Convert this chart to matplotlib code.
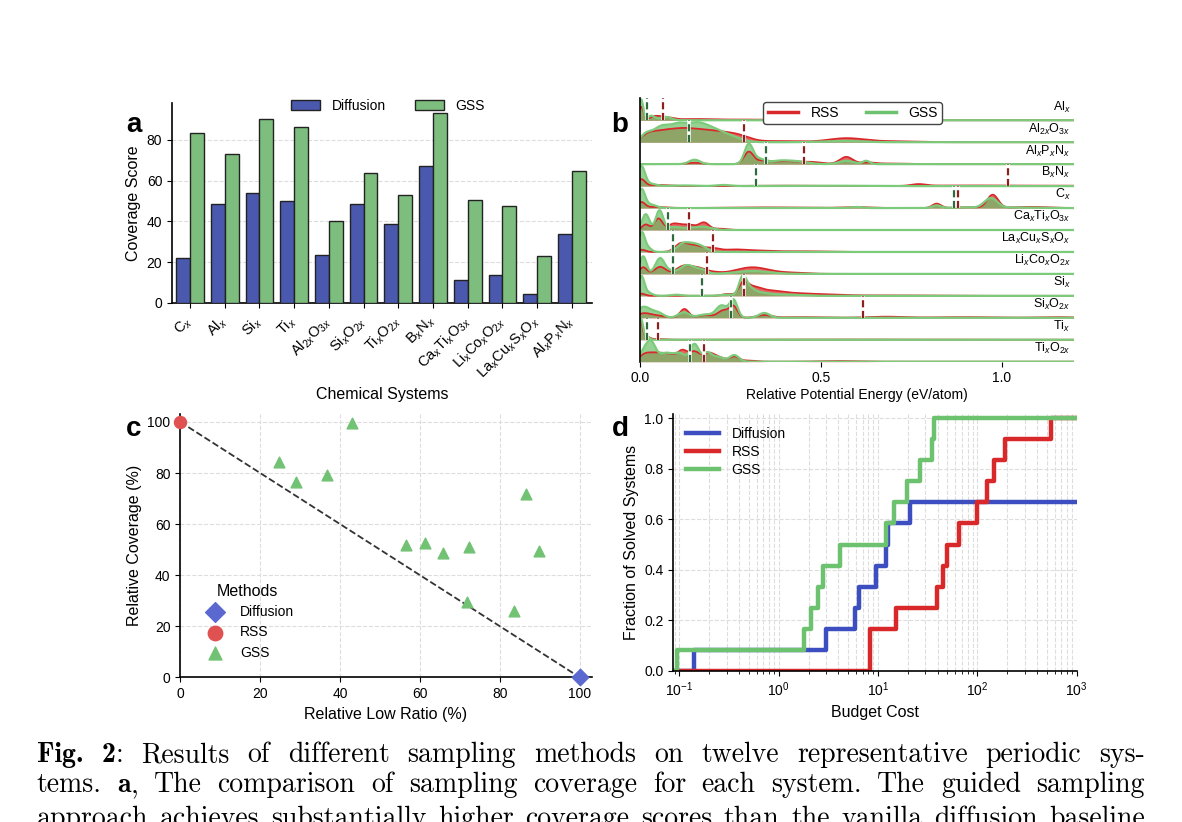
import re
import numpy as np
import matplotlib
matplotlib.use("Agg")
import matplotlib.pyplot as plt
from matplotlib.lines import Line2D

W, H = 1182, 822

plt.rcParams["font.family"] = ["Liberation Sans", "DejaVu Sans"]
plt.rcParams["mathtext.fontset"] = "custom"
plt.rcParams["mathtext.rm"] = "Liberation Sans"
plt.rcParams["mathtext.it"] = "Liberation Sans:italic"
plt.rcParams["axes.linewidth"] = 1.2
plt.rcParams["xtick.labelsize"] = 10
plt.rcParams["ytick.labelsize"] = 10

# ---------------- panel a: coverage score ----------------
systems_a = ["C$_x$", "Al$_x$", "Si$_x$", "Ti$_x$", "Al$_{2x}$O$_{3x}$", "Si$_x$O$_{2x}$",
             "Ti$_x$O$_{2x}$", "B$_x$N$_x$", "Ca$_x$Ti$_x$O$_{3x}$", "Li$_x$Co$_x$O$_{2x}$",
             "La$_x$Cu$_x$S$_x$O$_x$", "Al$_x$P$_x$N$_x$"]
diffusion_cov = [22.2, 48.3, 53.9, 50.1, 23.7, 48.6, 38.9, 67.0, 11.5, 13.6, 4.4, 34.0]
gss_cov = [83.4, 73.1, 90.2, 86.2, 40.1, 63.7, 52.9, 93.3, 50.4, 47.6, 22.8, 64.6]

# ---------------- panel b: energy distributions ----------------
systems_b = ["Al$_x$", "Al$_{2x}$O$_{3x}$", "Al$_x$P$_x$N$_x$", "B$_x$N$_x$", "C$_x$",
             "Ca$_x$Ti$_x$O$_{3x}$", "La$_x$Cu$_x$S$_x$O$_x$", "Li$_x$Co$_x$O$_{2x}$",
             "Si$_x$", "Si$_x$O$_{2x}$", "Ti$_x$", "Ti$_x$O$_{2x}$"]
# density peaks: (energy, relative height, width)
rss_peaks = [
    [(0.003, 0.6, 0.006), (0.04, 0.15, 0.015), (0.07, 0.12, 0.02), (0.15, 0.05, 0.05), (0.3, 0.03, 0.08)],
    [(0.02, 0.25, 0.02), (0.06, 0.42, 0.03), (0.11, 0.33, 0.03), (0.16, 0.45, 0.04), (0.23, 0.35, 0.04),
     (0.28, 0.15, 0.03), (0.38, 0.05, 0.06), (0.57, 0.18, 0.05), (0.7, 0.04, 0.06)],
    [(0.15, 0.06, 0.02), (0.3, 0.55, 0.013), (0.34, 0.15, 0.02), (0.4, 0.13, 0.03), (0.47, 0.1, 0.03),
     (0.57, 0.33, 0.018), (0.63, 0.07, 0.02), (0.7, 0.03, 0.04)],
    [(0.003, 0.3, 0.01), (0.05, 0.05, 0.03), (0.4, 0.02, 0.1), (0.77, 0.08, 0.02), (0.9, 0.03, 0.1),
     (1.15, 0.02, 0.08)],
    [(0.003, 0.25, 0.01), (0.04, 0.05, 0.03), (0.35, 0.03, 0.1), (0.6, 0.04, 0.04), (0.82, 0.2, 0.012),
     (0.9, 0.04, 0.03), (0.975, 0.6, 0.015), (1.08, 0.05, 0.05)],
    [(0.015, 0.25, 0.01), (0.05, 0.52, 0.011), (0.09, 0.22, 0.015), (0.13, 0.25, 0.025),
     (0.177, 0.3, 0.013), (0.22, 0.06, 0.02)],
    [(0.004, 0.1, 0.01), (0.11, 0.28, 0.015), (0.145, 0.32, 0.025), (0.2, 0.15, 0.02), (0.26, 0.1, 0.03),
     (0.33, 0.06, 0.04), (0.45, 0.03, 0.05)],
    [(0.008, 0.3, 0.01), (0.055, 0.32, 0.015), (0.12, 0.35, 0.02), (0.16, 0.25, 0.02), (0.2, 0.07, 0.02),
     (0.31, 0.3, 0.045), (0.42, 0.05, 0.04)],
    [(0.003, 0.1, 0.01), (0.24, 0.08, 0.015), (0.285, 0.5, 0.012), (0.31, 0.3, 0.02), (0.35, 0.2, 0.035),
     (0.42, 0.11, 0.05), (0.52, 0.05, 0.05), (0.7, 0.02, 0.1)],
    [(0.01, 0.2, 0.02), (0.05, 0.08, 0.02), (0.122, 0.4, 0.012), (0.18, 0.12, 0.02), (0.23, 0.33, 0.015),
     (0.258, 0.5, 0.011), (0.343, 0.12, 0.02), (0.45, 0.03, 0.06), (0.68, 0.05, 0.05), (0.9, 0.03, 0.08),
     (1.15, 0.03, 0.05)],
    [(0.001, 0.85, 0.005), (0.015, 0.15, 0.01), (0.05, 0.03, 0.02), (0.5, 0.01, 0.2)],
    [(0.01, 0.25, 0.015), (0.04, 0.35, 0.02), (0.08, 0.32, 0.02), (0.117, 0.45, 0.013), (0.15, 0.45, 0.015),
     (0.19, 0.38, 0.015), (0.22, 0.17, 0.015), (0.26, 0.23, 0.013), (0.3, 0.05, 0.02), (0.55, 0.03, 0.05)],
]
gss_peaks = [
    [(0.002, 0.95, 0.006), (0.03, 0.2, 0.01), (0.07, 0.15, 0.015)],
    [(0.015, 0.3, 0.015), (0.06, 0.72, 0.025), (0.105, 0.5, 0.02), (0.15, 0.75, 0.03), (0.2, 0.45, 0.03),
     (0.25, 0.22, 0.03), (0.56, 0.06, 0.05)],
    [(0.15, 0.2, 0.015), (0.3, 0.9, 0.012), (0.33, 0.22, 0.015), (0.38, 0.13, 0.025), (0.43, 0.13, 0.03),
     (0.57, 0.15, 0.02), (0.625, 0.15, 0.01)],
    [(0.003, 0.9, 0.01), (0.03, 0.1, 0.015), (0.12, 0.03, 0.03), (0.23, 0.05, 0.02), (0.5, 0.02, 0.1)],
    [(0.003, 0.85, 0.01), (0.03, 0.15, 0.015), (0.6, 0.05, 0.015), (0.82, 0.12, 0.012), (0.9, 0.03, 0.03),
     (0.97, 0.45, 0.018), (1.05, 0.03, 0.04)],
    [(0.015, 0.72, 0.01), (0.053, 0.88, 0.01), (0.09, 0.12, 0.02), (0.15, 0.1, 0.03), (0.18, 0.08, 0.02)],
    [(0.004, 0.85, 0.008), (0.02, 0.2, 0.01), (0.115, 0.28, 0.015), (0.145, 0.36, 0.02), (0.175, 0.13, 0.015)],
    [(0.008, 0.8, 0.009), (0.055, 0.72, 0.013), (0.085, 0.1, 0.01), (0.13, 0.4, 0.02), (0.17, 0.17, 0.015),
     (0.31, 0.13, 0.045)],
    [(0.003, 0.85, 0.008), (0.02, 0.15, 0.012), (0.1, 0.05, 0.015), (0.24, 0.05, 0.02), (0.283, 0.75, 0.01),
     (0.3, 0.3, 0.015), (0.33, 0.13, 0.025), (0.4, 0.06, 0.04)],
    [(0.01, 0.5, 0.02), (0.05, 0.2, 0.015), (0.12, 0.25, 0.015), (0.18, 0.15, 0.02), (0.225, 0.55, 0.015),
     (0.258, 0.8, 0.011), (0.343, 0.22, 0.015)],
    [(0.002, 0.95, 0.006), (0.02, 0.12, 0.006)],
    [(0.01, 0.45, 0.012), (0.03, 0.8, 0.012), (0.07, 0.4, 0.02), (0.11, 0.35, 0.015), (0.15, 0.8, 0.012),
     (0.185, 0.4, 0.012), (0.215, 0.22, 0.015), (0.26, 0.3, 0.013)],
]
rss_mean = [0.062, 0.288, 0.452, 1.018, 0.880, 0.135, 0.202, 0.184, 0.287, 0.617, 0.048, 0.176]
gss_mean = [0.0175, 0.136, 0.348, 0.321, 0.869, 0.0756, 0.091, 0.091, 0.170, 0.251, 0.0175, 0.137]

# ---------------- panel c: trade-off ----------------
rss_point = (0.0, 100.0)
diffusion_point = (100.0, 0.0)
gss_low_ratio = [42.9, 24.7, 29.0, 36.8, 56.4, 61.2, 65.8, 72.2, 71.8, 83.5, 86.6, 89.7]
gss_rel_cov = [99.6, 84.3, 76.6, 79.3, 51.8, 52.7, 48.8, 51.1, 29.5, 26.0, 71.8, 49.5]

# ---------------- panel d: solved fraction vs budget ----------------
n_systems = 12
diffusion_cost = [0.14, 3.0, 5.9, 6.4, 9.6, 12.0, 12.5, 21.0]
rss_cost = [8.3, 8.3, 15.2, 39.6, 45.6, 49.3, 66.0, 98.9, 124.7, 145.5, 190.7, 550.0]
gss_cost = [0.095, 1.8, 2.1, 2.5, 2.8, 4.1, 12.0, 14.5, 19.4, 26.5, 34.7, 36.9]
budget_range = (0.09, 1000.0)

# caption (the third line is cut by the page edge)
caption_lines = [
    "**Fig.** **2**: Results of different sampling methods on twelve representative periodic sys-",
    "tems. **a**, The comparison of sampling coverage for each system. The guided sampling",
    "approach achieves substantially higher coverage scores than the vanilla diffusion baseline",
]
caption_baselines = [762.3, 792.0, 826.0]

c_diff = "#4A58AE"
c_gss_bar = "#7DBE7F"
c_red = "#D8282A"
c_green = "#6DC26F"
c_blue = "#3C4EC0"
grid_kw = dict(color="#DDDDDD", ls="--", lw=0.8)


def px_axes(fig, l, t, r, b):
    return fig.add_axes([l / W, 1 - b / H, (r - l) / W, (b - t) / H])


fig = plt.figure(figsize=(W / 100, H / 100), dpi=100)

# ---- a
ax = px_axes(fig, 172, 103, 592, 303)
idx = np.arange(len(systems_a))
ax.bar(idx - 0.2, diffusion_cov, 0.4, color=c_diff, edgecolor="#222222", lw=1.0, label="Diffusion", zorder=3)
ax.bar(idx + 0.2, gss_cov, 0.4, color=c_gss_bar, edgecolor="#222222", lw=1.0, label="GSS", zorder=3)
ax.set_xlim(-0.52, 11.58)
ax.set_ylim(0, 98)
ax.set_yticks([0, 20, 40, 60, 80])
ax.yaxis.grid(True, **grid_kw)
ax.set_axisbelow(True)
ax.set_xticks(idx)
ax.set_xticklabels(systems_a, rotation=45, ha="right", va="center", rotation_mode="anchor", fontsize=10.5)
ax.tick_params(axis="x", pad=8)
ax.set_ylabel("Coverage Score", fontsize=11.5)
ax.set_xlabel("Chemical Systems", fontsize=11.5, labelpad=4)
for s in ["top", "right"]:
    ax.spines[s].set_visible(False)
ax.legend(loc="center", bbox_to_anchor=(0.514, 0.985), ncol=2, frameon=False, fontsize=10,
          handlelength=2.1, handleheight=0.75, columnspacing=2.1, handletextpad=0.8)

# ---- b
ax = px_axes(fig, 640.3, 98.3, 1074, 361.7)
n_rows = len(systems_b)
xg = np.linspace(0, 1.2, 1201)


def ridge(peaks):
    return sum(h * np.exp(-0.5 * ((xg - m) / s) ** 2) for m, h, s in peaks)


for i in range(n_rows):
    base = n_rows - 1 - i
    zr = 2 + i * 0.01
    r = np.minimum(ridge(rss_peaks[i]), 1.0)
    g = np.minimum(ridge(gss_peaks[i]), 1.0)
    ax.fill_between(xg, base, base + r, color="#E0403F", alpha=0.8, lw=0, zorder=zr)
    ax.fill_between(xg, base, base + g, color="#6BBF69", alpha=0.7, lw=0, zorder=zr)
    ax.plot(xg, base + r, color=c_red, lw=1.3, zorder=zr + 0.001)
    ax.plot(xg, base + g, color="#7CCB7B", lw=1.6, zorder=zr + 0.002)
    for m, col in [(gss_mean[i], "#2F6B3C"), (rss_mean[i], "#8E1F1F")]:
        ax.plot([m, m], [base, base + 1.0], color="white", lw=2.6, zorder=zr + 0.003, solid_capstyle="butt")
        ax.plot([m, m], [base, base + 1.0], color=col, lw=1.6, ls=(0, (3.2, 1.6)), zorder=zr + 0.004)
    ax.text(1.19, base + 0.6, systems_b[i], ha="right", va="center", fontsize=9, zorder=20)
ax.set_xlim(0, 1.2)
ax.set_ylim(0, n_rows)
ax.set_yticks([])
ax.set_xticks([0, 0.5, 1.0])
ax.set_xticklabels(["0.0", "0.5", "1.0"])
for s in ["top", "right", "bottom"]:
    ax.spines[s].set_visible(False)
ax.set_xlabel("Relative Potential Energy (eV/atom)", fontsize=10, labelpad=2)
leg = ax.legend([Line2D([], [], color=c_red, lw=2.5), Line2D([], [], color=c_green, lw=2.5)],
                ["RSS", "GSS"], loc="center", bbox_to_anchor=(0.49, 0.944), ncol=2, fontsize=10,
                handlelength=2.2, columnspacing=1.9, framealpha=1, edgecolor="#444444",
                borderpad=0.3, handletextpad=0.9)
leg.set_zorder(30)

# ---- c
ax = px_axes(fig, 180.3, 414.3, 591.7, 677.3)
ax.plot([rss_point[0], diffusion_point[0]], [rss_point[1], diffusion_point[1]],
        ls="--", color="#333333", lw=1.3, zorder=2)
ax.scatter(*diffusion_point, marker="D", s=70, color="#5A68D0", label="Diffusion", zorder=4, clip_on=False)
ax.scatter(*rss_point, marker="o", s=75, color="#E05252", label="RSS", zorder=4, clip_on=False)
ax.scatter(gss_low_ratio, gss_rel_cov, marker="^", s=60, color="#72C274", label="GSS", zorder=3)
ax.set_xlim(0, 103)
ax.set_ylim(0, 103)
ax.set_xticks(range(0, 101, 20))
ax.set_yticks(range(0, 101, 20))
ax.grid(True, **grid_kw)
ax.set_axisbelow(True)
for s in ["top", "right"]:
    ax.spines[s].set_visible(False)
ax.set_xlabel("Relative Low Ratio (%)", fontsize=11.5)
ax.set_ylabel("Relative Coverage (%)", fontsize=11.5)
ax.legend(title="Methods", loc="lower left", bbox_to_anchor=(0.02, 0.02), frameon=False, fontsize=10,
          title_fontsize=11.5, labelspacing=0.45, handletextpad=0.8, scatterpoints=1, markerscale=1.2)

# ---- d
ax = px_axes(fig, 673.3, 414.3, 1076.7, 671)
for costs, col, lab in [(diffusion_cost, c_blue, "Diffusion"), (rss_cost, c_red, "RSS"), (gss_cost, c_green, "GSS")]:
    xs = np.concatenate([[budget_range[0]], costs, [budget_range[1]]])
    frac = np.arange(1, len(costs) + 1) / n_systems
    ys = np.concatenate([[0], frac, [frac[-1]]])
    ax.step(xs, ys, where="post", color=col, lw=3.2, label=lab)
ax.set_xscale("log")
ax.set_xlim(0.087, 1000)
ax.set_ylim(0, 1.015)
ax.set_yticks([0, 0.2, 0.4, 0.6, 0.8, 1.0])
ax.set_yticklabels(["0.0", "0.2", "0.4", "0.6", "0.8", "1.0"])
ax.grid(True, which="both", axis="x", **grid_kw)
ax.grid(True, which="major", axis="y", **grid_kw)
ax.set_axisbelow(True)
for s in ["top", "right"]:
    ax.spines[s].set_visible(False)
ax.set_xlabel("Budget Cost", fontsize=11.5)
ax.set_ylabel("Fraction of Solved Systems", fontsize=11.5)
ax.legend(loc="upper left", bbox_to_anchor=(0.0, 1.0), frameon=False, fontsize=10,
          handlelength=2.4, labelspacing=0.3, handletextpad=0.9)

# panel letters
for letter, x, y in [("a", 126, 131.7), ("b", 611.7, 131.7), ("c", 126, 435.7), ("d", 611.7, 435.7)]:
    fig.text(x / W, 1 - y / H, letter, ha="left", va="baseline", fontsize=20, fontweight="bold")

# caption, justified between the text margins
renderer = fig.canvas.get_renderer()
left_px, right_px = 36.7, 1145.0
for line, base_px in zip(caption_lines, caption_baselines):
    y = 1 - base_px / H
    words = []
    for w in line.split(" "):
        segs = []
        for part in re.split(r"(\*\*.*?\*\*)", w):
            if not part:
                continue
            bold = part.startswith("**")
            t = fig.text(0, y, part.strip("*"), fontsize=20, va="baseline", ha="left",
                         family="cmb10" if bold else "cmr10")
            segs.append((t, t.get_window_extent(renderer).width))
        words.append(segs)
    widths = [sum(wd for _, wd in segs) for segs in words]
    gap = (right_px - left_px - sum(widths)) / (len(words) - 1)
    x = left_px
    for segs, wd in zip(words, widths):
        xx = x
        for t, sw in segs:
            t.set_x(xx / W)
            xx += sw
        x += wd + gap

fig.savefig("out.png", dpi=100)
